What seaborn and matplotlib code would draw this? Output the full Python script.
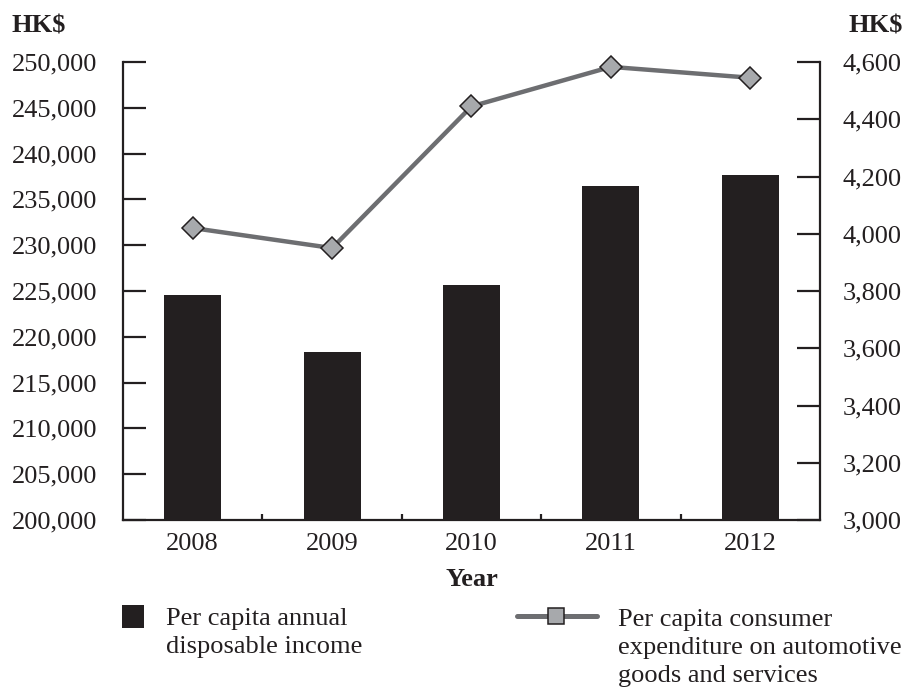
import numpy as np
import pandas as pd
import matplotlib
matplotlib.use("Agg")
import matplotlib.pyplot as plt
from matplotlib.lines import Line2D
from matplotlib.patches import Rectangle
from matplotlib.ticker import FuncFormatter, FixedLocator
import seaborn as sns

# Data
years = ["2008", "2009", "2010", "2011", "2012"]
income = [224600, 218300, 225700, 236500, 237700]          # HK$, left axis
auto_spend = [4020, 3950, 4445, 4583, 4545]               # HK$, right axis
income_ticks = list(range(200000, 250001, 5000))
spend_ticks = list(range(3000, 4601, 200))

legend_income = "Per capita annual\ndisposable income"
legend_spend = "Per capita consumer\nexpenditure on automotive\ngoods and services"

INK = "#231f20"
LINE = "#6d6e71"
MARK = "#a7a9ac"
FS = 19

sns.set_theme(style="white")
plt.rcParams["font.family"] = ["Liberation Serif", "DejaVu Serif"]
plt.rcParams["text.color"] = INK
plt.rcParams["axes.labelcolor"] = INK
plt.rcParams["xtick.color"] = INK
plt.rcParams["ytick.color"] = INK

W, H = 909, 687
fig = plt.figure(figsize=(W / 100, H / 100), dpi=100)
ax = fig.add_axes([123 / W, 1 - 520 / H, (820 - 123) / W, (520 - 62) / H])

df = pd.DataFrame({"Year": years, "Income": income})
sns.barplot(data=df, x="Year", y="Income", color=INK, saturation=1,
            width=0.41, linewidth=0, ax=ax)
ax.set_xlim(-0.5, 4.5)
ax.set_ylim(income_ticks[0], income_ticks[-1])

# Right-hand axis with the expenditure line
ax2 = ax.twinx()
pos = np.arange(len(years))
sns.lineplot(x=pos, y=auto_spend, ax=ax2, color=LINE, linewidth=3.2,
             marker="D", markersize=11.5, markerfacecolor=MARK,
             markeredgecolor=INK, markeredgewidth=1.1, clip_on=False)
ax2.set_ylim(spend_ticks[0], spend_ticks[-1])
ax2.set_xlim(-0.5, 4.5)

# Spines
for s in ["top", "right"]:
    ax.spines[s].set_visible(False)
for s in ["top", "left", "bottom"]:
    ax2.spines[s].set_visible(False)
for s in ["left", "bottom"]:
    ax.spines[s].set_color(INK)
    ax.spines[s].set_linewidth(1.6)
ax2.spines["right"].set_color(INK)
ax2.spines["right"].set_linewidth(1.6)

# Y ticks
ax.yaxis.set_major_locator(FixedLocator(income_ticks))
ax.yaxis.set_major_formatter(FuncFormatter(lambda v, p: f"{int(v):,}"))
ax.tick_params(axis="y", direction="in", length=16.5, width=1.6,
               pad=18.5, labelsize=FS, left=True)
ax2.yaxis.set_major_locator(FixedLocator(spend_ticks))
ax2.yaxis.set_major_formatter(FuncFormatter(lambda v, p: f"{int(v):,}"))
ax2.tick_params(axis="y", direction="in", length=16.5, width=1.6,
                pad=16.5, labelsize=FS, right=True)

# X ticks: labels at bar centres, small inward marks between categories
ax.set_xticks(pos)
ax.set_xticklabels(years)
ax.tick_params(axis="x", which="major", length=0, pad=9.5, labelsize=FS, bottom=True)
ax.xaxis.set_minor_locator(FixedLocator([0.5, 1.5, 2.5, 3.5]))
ax.tick_params(axis="x", which="minor", direction="in", length=4.5,
               width=1.6, bottom=True)
ax2.tick_params(axis="x", which="both", length=0, labelbottom=False)
ax.set_xlabel("Year", fontsize=FS, fontweight="bold", labelpad=9)
ax.set_ylabel("")
ax.grid(False)
ax2.grid(False)

# Unit labels
fig.text(12 / W, 1 - 26 / H, "HK$", fontsize=FS, fontweight="bold",
         ha="left", va="center")
fig.text(903 / W, 1 - 26 / H, "HK$", fontsize=FS, fontweight="bold",
         ha="right", va="center")

# Legend (multi-line labels are anchored on the baseline of their last line)
fig.add_artist(Rectangle((122 / W, 1 - 628 / H), 22 / W, 23 / H,
                         transform=fig.transFigure, facecolor=INK,
                         edgecolor="none"))
fig.text(166 / W, 1 - 653 / H, legend_income, fontsize=FS, ha="left",
         va="baseline", linespacing=1.36)
fig.add_artist(Line2D([517 / W, 597 / W], [1 - 616 / H, 1 - 616 / H],
                      transform=fig.transFigure, color=LINE, linewidth=3.6,
                      solid_capstyle="round"))
fig.add_artist(Line2D([556 / W], [1 - 616 / H], transform=fig.transFigure,
                      marker="s", markersize=12, markerfacecolor=MARK,
                      markeredgecolor=INK, markeredgewidth=1.1, linestyle="none"))
fig.text(618 / W, 1 - 682 / H, legend_spend, fontsize=FS, ha="left",
         va="baseline", linespacing=1.36)

fig.savefig("out.png", dpi=100)
